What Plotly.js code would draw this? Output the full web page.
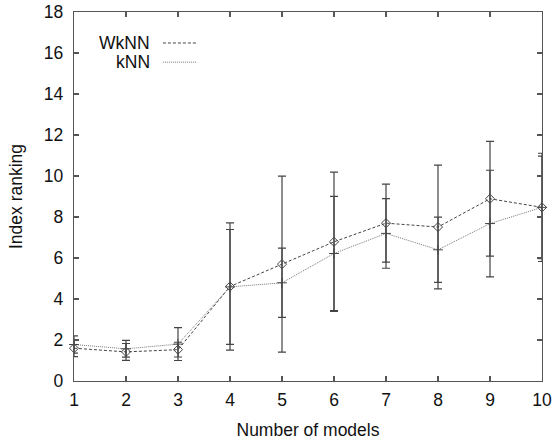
<!DOCTYPE html>
<html>
<head>
<meta charset="utf-8">
<script src="https://cdn.plot.ly/plotly-3.0.1.min.js"></script>
<style>html,body{margin:0;padding:0;background:#fff;}#chart{width:555px;height:440px;}</style>
</head>
<body>
<div id="chart"></div>
<script>
// Data
const models = [1, 2, 3, 4, 5, 6, 7, 8, 9, 10];
const wknnRank = [1.60, 1.42, 1.53, 4.61, 5.70, 6.79, 7.70, 7.51, 8.89, 8.47];
const wknnErr  = [0.41, 0.41, 0.36, 3.10, 4.29, 3.40, 1.90, 3.02, 2.80, 2.64];
const knnRank  = [1.78, 1.57, 1.80, 4.59, 4.79, 6.22, 7.20, 6.40, 7.68, 8.47];
const knnErr   = [0.42, 0.41, 0.80, 2.80, 1.69, 2.79, 1.70, 1.59, 2.60, 2.50];
const seriesNames = ["WkNN", "kNN"];
const xTickVals = [1, 2, 3, 4, 5, 6, 7, 8, 9, 10];
const yTickVals = [0, 2, 4, 6, 8, 10, 12, 14, 16, 18];

const axisColor = "#555555";
const font = {family: "Liberation Sans, Arial, sans-serif", size: 17.5, color: "#111"};

const traces = [
  {
    x: models, y: wknnRank, name: seriesNames[0], type: "scatter", mode: "lines+markers",
    line: {color: "#444", width: 1, dash: "3px,2px"},
    marker: {symbol: "diamond-open", size: 7, color: "#444", line: {width: 1, color: "#444"}},
    error_y: {type: "data", array: wknnErr, visible: true, color: "#444", thickness: 1.2, width: 4},
    cliponaxis: false, showlegend: false
  },
  {
    x: models, y: knnRank, name: seriesNames[1], type: "scatter", mode: "lines+markers",
    line: {color: "#777", width: 1, dash: "1px,1px"},
    marker: {symbol: "cross-thin-open", size: 7, color: "#444", line: {width: 1, color: "#444"}},
    error_y: {type: "data", array: knnErr, visible: true, color: "#444", thickness: 1.2, width: 4},
    cliponaxis: false, showlegend: false
  }
];

const layout = {
  width: 555, height: 440,
  margin: {l: 74, r: 13, t: 12, b: 59},
  paper_bgcolor: "#fff", plot_bgcolor: "#fff",
  font: font,
  showlegend: false,
  xaxis: {
    range: [1, 10], tickvals: xTickVals, ticktext: xTickVals.map(String),
    showgrid: false, zeroline: false,
    showline: true, mirror: "ticks", linecolor: axisColor, linewidth: 1.2,
    ticks: "inside", ticklen: 5, tickcolor: axisColor, tickwidth: 1.2,
    ticklabelstandoff: 3,
    tickfont: font,
    title: {text: "Number of models", font: font, standoff: 14}
  },
  yaxis: {
    range: [0, 18], tickvals: yTickVals, ticktext: yTickVals.map(String),
    showgrid: false, zeroline: false,
    showline: true, mirror: "ticks", linecolor: axisColor, linewidth: 1.2,
    ticks: "inside", ticklen: 5, tickcolor: axisColor, tickwidth: 1.2,
    ticklabelstandoff: 6,
    tickfont: font,
    title: {text: "Index ranking", font: font, standoff: 16}
  },
  shapes: [
    {type: "line", xref: "paper", yref: "paper", x0: 0.190, x1: 0.263, y0: 0.916, y1: 0.916,
     line: {color: "#444", width: 1, dash: "3px,2px"}},
    {type: "line", xref: "paper", yref: "paper", x0: 0.190, x1: 0.263, y0: 0.864, y1: 0.864,
     line: {color: "#777", width: 1, dash: "1px,1px"}}
  ],
  annotations: [
    {xref: "paper", yref: "paper", x: 0.167, y: 0.916, xanchor: "right", yanchor: "middle",
     text: seriesNames[0], showarrow: false, font: font},
    {xref: "paper", yref: "paper", x: 0.167, y: 0.864, xanchor: "right", yanchor: "middle",
     text: seriesNames[1], showarrow: false, font: font}
  ]
};

Plotly.newPlot("chart", traces, layout, {staticPlot: true, displayModeBar: false});
</script>
</body>
</html>
